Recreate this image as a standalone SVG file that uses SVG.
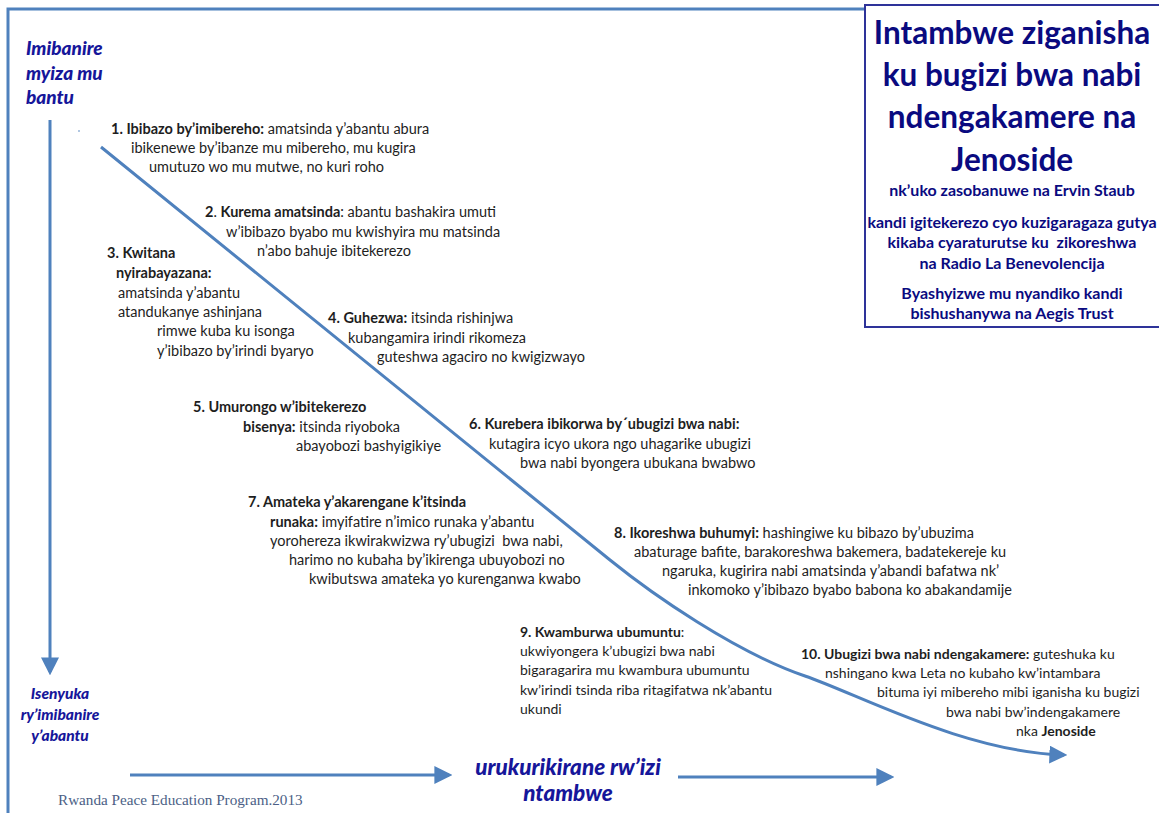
<svg xmlns="http://www.w3.org/2000/svg" width="1159" height="813" viewBox="0 0 1159 813">
  <defs>
    <marker id="arrow" markerUnits="userSpaceOnUse" markerWidth="18" markerHeight="18" viewBox="0 0 16 16" refX="13" refY="8" orient="auto">
      <path d="M0,0 L16,8 L0,16 z" fill="#4f81bd"/>
    </marker>
    <style>
      .frame { fill: none; stroke: #4f81bd; stroke-width: 3; }
      .conn { fill: none; stroke: #4f81bd; stroke-width: 3; }
      .box { fill: #ffffff; stroke: #2e3399; stroke-width: 2; }
      .title { font-family: Lato, "Liberation Sans", sans-serif; font-weight: bold; fill: #0a0a80; text-anchor: middle; }
      .t1 { font-size: 31.5px; }
      .t2 { font-size: 16px; }
      .axis { font-family: Lato, "Liberation Sans", sans-serif; font-weight: 900; font-style: italic; fill: #16169a; }
      .step { font-family: Lato, "Liberation Sans", sans-serif; font-size: 14.5px; fill: #1e1e1e; }
      .narrow { font-size: 14px; }
      .b { font-weight: bold; }
      .foot { font-family: "Liberation Serif", "DejaVu Serif", serif; font-size: 15.2px; fill: #4c5f86; }
    </style>
  </defs>

  <rect width="1159" height="813" fill="#ffffff"/>

  <!-- outer frame: top and left rules -->
  <path class="frame" d="M8,813 L8,9 L866,9"/>

  <!-- title panel -->
  <g id="title">
    <rect class="box" x="865" y="5" width="300" height="322"/>
    <text class="title t1" x="1012" y="44">Intambwe ziganisha</text>
    <text class="title t1" x="1012" y="86">ku bugizi bwa nabi</text>
    <text class="title t1" x="1012" y="128">ndengakamere na</text>
    <text class="title t1" x="1012" y="171">Jenoside</text>
    <text class="title t2" x="1012" y="196">nk’uko zasobanuwe na Ervin Staub</text>
    <text class="title t2" x="1012" y="228">kandi igitekerezo cyo kuzigaragaza gutya</text>
    <text class="title t2" x="1012" y="248" xml:space="preserve">kikaba cyaraturutse ku  zikoreshwa</text>
    <text class="title t2" x="1012" y="269">na Radio La Benevolencija</text>
    <text class="title t2" x="1012" y="299">Byashyizwe mu nyandiko kandi</text>
    <text class="title t2" x="1012" y="319">bishushanywa na Aegis Trust</text>
  </g>

  <!-- axis labels -->
  <g id="axis-top">
    <text class="axis" font-size="19" x="26" y="55">Imibanire</text>
    <text class="axis" font-size="19" x="26" y="80">myiza mu</text>
    <text class="axis" font-size="19" x="26" y="104">bantu</text>
  </g>
  <g id="axis-bottom">
    <text class="axis" font-size="15.5" x="60" y="699" text-anchor="middle">Isenyuka</text>
    <text class="axis" font-size="15.5" x="60" y="720" text-anchor="middle">ry’imibanire</text>
    <text class="axis" font-size="15.5" x="60" y="741" text-anchor="middle">y’abantu</text>
  </g>
  <g id="axis-time">
    <text class="axis" font-size="22.5" x="568" y="775" text-anchor="middle">urukurikirane rw’izi</text>
    <text class="axis" font-size="22.5" x="568" y="801" text-anchor="middle">ntambwe</text>
  </g>

  <!-- connectors -->
  <g id="connectors">
    <line class="conn" x1="50" y1="120" x2="50" y2="672" marker-end="url(#arrow)"/>
    <line class="conn" x1="130" y1="775" x2="449" y2="775" marker-end="url(#arrow)"/>
    <line class="conn" x1="678" y1="777" x2="891" y2="777" marker-end="url(#arrow)"/>
    <path class="conn" d="M101,147 L610,560 C652,594 735,652 805,676 C860,695 965,752 1064,755" marker-end="url(#arrow)"/>
    <circle cx="79" cy="131" r="0.8" fill="#4f81bd"/>
  </g>

  <!-- steps -->
  <g id="step1" class="step">
    <text x="111" y="134"><tspan class="b">1. Ibibazo by’imibereho:</tspan> amatsinda y’abantu abura</text>
    <text x="131" y="153">ibikenewe by’ibanze mu mibereho, mu kugira</text>
    <text x="149" y="172">umutuzo wo mu mutwe, no kuri roho</text>
  </g>
  <g id="step2" class="step">
    <text x="205" y="217"><tspan class="b">2</tspan>. <tspan class="b">Kurema amatsinda</tspan>: abantu bashakira umuti</text>
    <text x="226" y="237">w’ibibazo byabo mu kwishyira mu matsinda</text>
    <text x="257" y="256">n’abo bahuje ibitekerezo</text>
  </g>
  <g id="step3" class="step">
    <text class="b" x="107" y="258">3. Kwitana</text>
    <text class="b" x="116" y="278">nyirabayazana:</text>
    <text x="118" y="298">amatsinda y’abantu</text>
    <text x="118" y="317">atandukanye ashinjana</text>
    <text x="157" y="336">rimwe kuba ku isonga</text>
    <text x="157" y="356">y’ibibazo by’irindi byaryo</text>
  </g>
  <g id="step4" class="step">
    <text x="328" y="323"><tspan class="b">4. Guhezwa:</tspan> itsinda rishinjwa</text>
    <text x="348" y="343">kubangamira irindi rikomeza</text>
    <text x="377" y="362">guteshwa agaciro no kwigizwayo</text>
  </g>
  <g id="step5" class="step">
    <text class="b" x="193" y="412">5. Umurongo w’ibitekerezo</text>
    <text x="243" y="432"><tspan class="b">bisenya:</tspan> itsinda riyoboka</text>
    <text x="296" y="451">abayobozi bashyigikiye</text>
  </g>
  <g id="step6" class="step">
    <text class="b" x="469" y="429">6. Kurebera ibikorwa by´ubugizi bwa nabi:</text>
    <text x="489" y="449">kutagira icyo ukora ngo uhagarike ubugizi</text>
    <text x="520" y="468">bwa nabi byongera ubukana bwabwo</text>
  </g>
  <g id="step7" class="step">
    <text class="b" x="248" y="507">7. Amateka y’akarengane k’itsinda</text>
    <text x="270" y="527"><tspan class="b">runaka:</tspan> imyifatire n’imico runaka y’abantu</text>
    <text x="270" y="546" xml:space="preserve">yorohereza ikwirakwizwa ry’ubugizi  bwa nabi,</text>
    <text x="289" y="565">harimo no kubaha by’ikirenga ubuyobozi no</text>
    <text x="309" y="584">kwibutswa amateka yo kurenganwa kwabo</text>
  </g>
  <g id="step8" class="step">
    <text x="614" y="538"><tspan class="b">8. Ikoreshwa buhumyi:</tspan> hashingiwe ku bibazo by’ubuzima</text>
    <text x="634" y="557">abaturage bafite, barakoreshwa bakemera, badatekereje ku</text>
    <text x="662" y="576">ngaruka, kugirira nabi amatsinda y’abandi bafatwa nk’</text>
    <text x="688" y="595">inkomoko y’ibibazo byabo babona ko abakandamije</text>
  </g>
  <g id="step9" class="step narrow">
    <text x="520" y="637"><tspan class="b">9. Kwamburwa ubumuntu</tspan>:</text>
    <text x="520" y="656">ukwiyongera k’ubugizi bwa nabi</text>
    <text x="520" y="675">bigaragarira mu kwambura ubumuntu</text>
    <text x="520" y="695">kw’irindi tsinda riba ritagifatwa nk’abantu</text>
    <text x="520" y="714">ukundi</text>
  </g>
  <g id="step10" class="step narrow">
    <text x="801" y="659"><tspan class="b">10. Ubugizi bwa nabi ndengakamere:</tspan> guteshuka ku</text>
    <text x="825" y="678">nshingano kwa Leta no kubaho kw’intambara</text>
    <text x="877" y="697">bituma iyi mibereho mibi iganisha ku bugizi</text>
    <text x="946" y="717">bwa nabi bw’indengakamere</text>
    <text x="1016" y="736">nka <tspan class="b">Jenoside</tspan></text>
  </g>

  <text class="foot" x="58" y="805">Rwanda Peace Education Program.2013</text>
</svg>
